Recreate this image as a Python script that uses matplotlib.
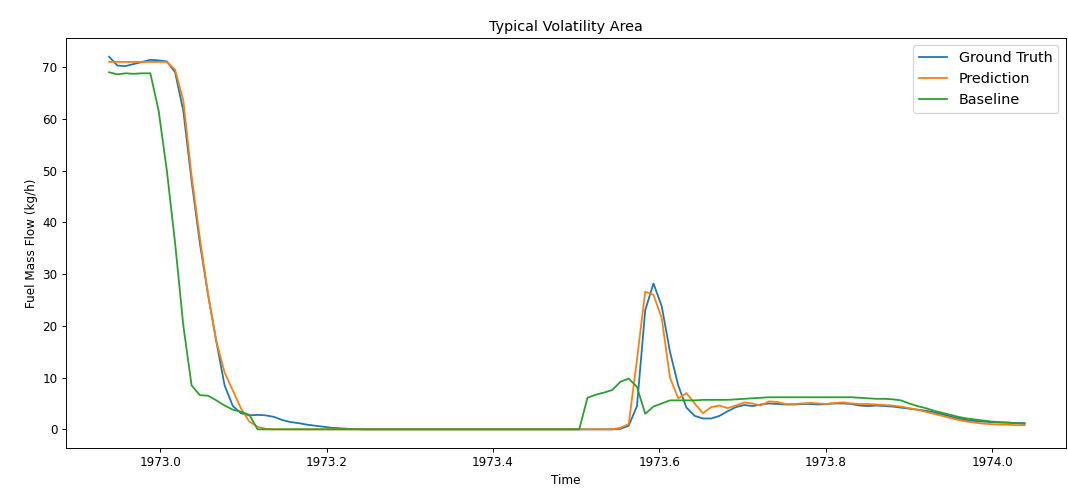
import numpy as np
import matplotlib
matplotlib.use("Agg")
import matplotlib.pyplot as plt

# Sampling grid (decimal years)
t_start = 1972.9388
t_step = 0.009909
n_points = 112
time = t_start + t_step * np.arange(n_points)

ground_truth = [
    72.0, 70.3, 70.2, 70.6, 71.0, 71.4, 71.3, 71.1, 69.0, 61.5,
    48.0, 36.0, 26.0, 17.0, 8.5, 4.5, 3.1, 2.7, 2.8, 2.7,
    2.4, 1.8, 1.4, 1.2, 0.9, 0.7, 0.5, 0.3, 0.2, 0.1,
    0.05, 0.0, 0.0, 0.0, 0.0, 0.0, 0.0, 0.0, 0.0, 0.0,
    0.0, 0.0, 0.0, 0.0, 0.0, 0.0, 0.0, 0.0, 0.0, 0.0,
    0.0, 0.0, 0.0, 0.0, 0.0, 0.0, 0.0, 0.0, 0.0, 0.0,
    0.0, 0.0, 0.1, 0.7, 4.5, 23.0, 28.2, 23.8, 15.0, 8.5,
    4.2, 2.6, 2.1, 2.1, 2.6, 3.5, 4.3, 4.7, 4.5, 4.8,
    5.0, 4.9, 4.8, 4.8, 4.9, 4.9, 4.8, 4.9, 5.0, 5.0,
    4.9, 4.6, 4.5, 4.6, 4.5, 4.4, 4.2, 4.0, 3.8, 3.6,
    3.3, 2.9, 2.5, 2.1, 1.8, 1.6, 1.5, 1.4, 1.3, 1.3,
    1.2, 1.2,
]

prediction = [
    71.0, 71.0, 71.0, 71.0, 71.0, 71.0, 71.0, 71.0, 69.5, 63.5,
    49.0, 37.0, 26.0, 17.0, 11.0, 7.5, 4.0, 1.5, 0.5, 0.1,
    0.0, 0.0, 0.0, 0.0, 0.0, 0.0, 0.0, 0.0, 0.0, 0.0,
    0.0, 0.0, 0.0, 0.0, 0.0, 0.0, 0.0, 0.0, 0.0, 0.0,
    0.0, 0.0, 0.0, 0.0, 0.0, 0.0, 0.0, 0.0, 0.0, 0.0,
    0.0, 0.0, 0.0, 0.0, 0.0, 0.0, 0.0, 0.0, 0.0, 0.0,
    0.0, 0.0, 0.3, 1.0, 13.5, 26.6, 26.0, 21.5, 10.0, 6.0,
    7.0, 5.0, 3.1, 4.3, 4.6, 4.1, 4.6, 5.2, 5.0, 4.6,
    5.4, 5.3, 4.9, 4.9, 5.0, 5.1, 5.0, 4.9, 5.1, 5.2,
    5.0, 4.9, 4.9, 4.8, 4.7, 4.6, 4.4, 4.1, 3.8, 3.4,
    3.0, 2.6, 2.2, 1.8, 1.5, 1.3, 1.1, 1.0, 0.9, 0.9,
    0.8, 0.8,
]

baseline = [
    69.0, 68.6, 68.8, 68.7, 68.8, 68.8, 61.6, 50.0, 36.0, 20.0,
    8.5, 6.6, 6.5, 5.6, 4.6, 3.8, 3.4, 2.8, 0.0, 0.0,
    0.0, 0.0, 0.0, 0.0, 0.0, 0.0, 0.0, 0.0, 0.0, 0.0,
    0.0, 0.0, 0.0, 0.0, 0.0, 0.0, 0.0, 0.0, 0.0, 0.0,
    0.0, 0.0, 0.0, 0.0, 0.0, 0.0, 0.0, 0.0, 0.0, 0.0,
    0.0, 0.0, 0.0, 0.0, 0.0, 0.0, 0.0, 0.0, 6.1, 6.7,
    7.1, 7.6, 9.2, 9.8, 8.2, 3.0, 4.4, 5.0, 5.6, 5.6,
    5.6, 5.6, 5.7, 5.7, 5.7, 5.7, 5.8, 5.9, 6.0, 6.1,
    6.2, 6.2, 6.2, 6.2, 6.2, 6.2, 6.2, 6.2, 6.2, 6.2,
    6.2, 6.1, 6.0, 5.9, 5.9, 5.8, 5.6, 5.0, 4.5, 4.1,
    3.6, 3.2, 2.8, 2.4, 2.1, 1.9, 1.7, 1.5, 1.4, 1.3,
    1.2, 1.1,
]

DPI = 86.4
fig = plt.figure(figsize=(1068 / DPI, 495 / DPI), dpi=DPI)
ax = fig.add_axes([0.0618, 0.095, 0.936, 0.828])

ax.plot(time, ground_truth, label="Ground Truth")
ax.plot(time, prediction, label="Prediction")
ax.plot(time, baseline, label="Baseline")

ax.set_xlim(1972.887, 1974.088)
ax.set_title("Typical Volatility Area")
ax.set_xlabel("Time")
ax.set_ylabel("Fuel Mass Flow (kg/h)")
ax.legend(loc="upper right", fontsize=12)

fig.savefig("out.png", dpi=DPI)
